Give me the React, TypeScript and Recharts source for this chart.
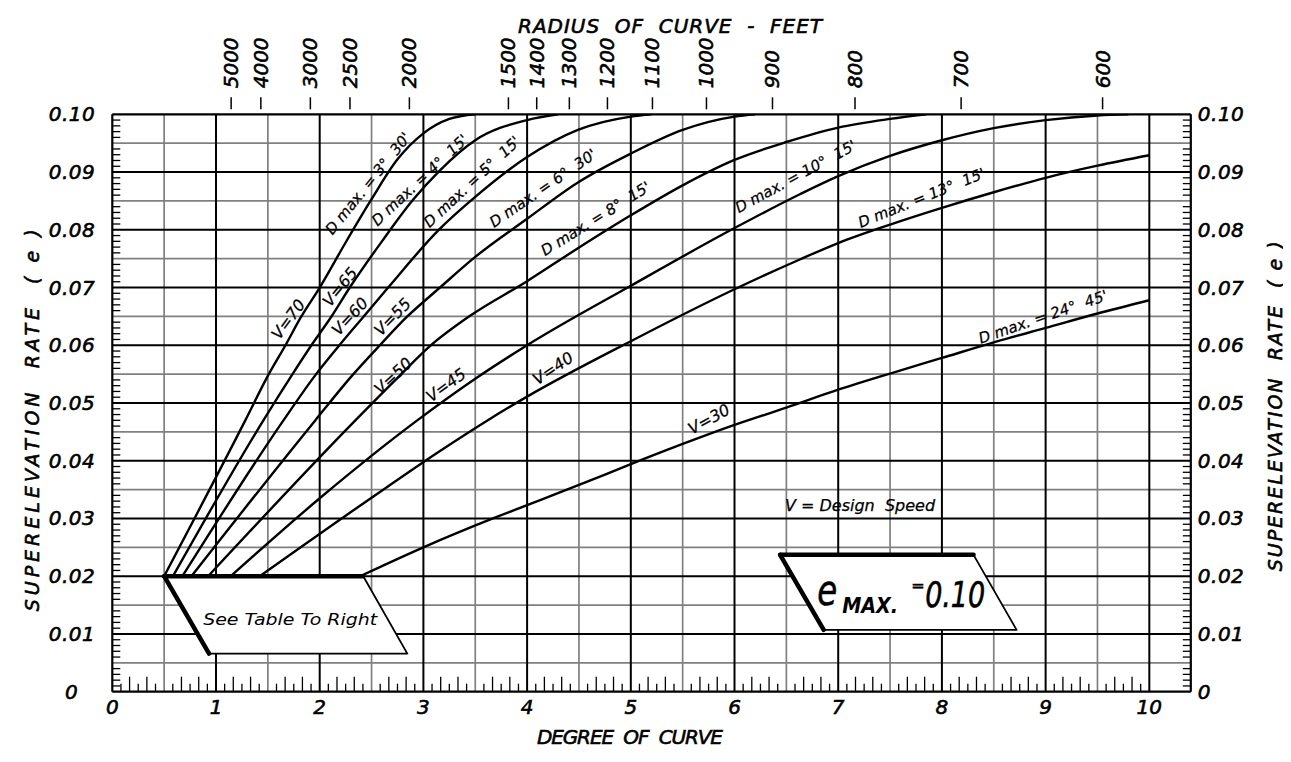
import React from 'react';
import {
  LineChart,
  Line,
  XAxis,
  YAxis,
  CartesianGrid,
  ReferenceArea,
  ReferenceDot,
  Label,
} from 'recharts';

// Superelevation rate e vs degree of curve D: [D, e]
const v70 = [[0.5, 0.02], [1.28, 0.0469], [1.5, 0.0547], [1.67, 0.06], [1.82, 0.0649], [2.0, 0.07], [2.25, 0.0778], [2.5, 0.0853], [2.75, 0.0922], [3.0, 0.0967], [3.25, 0.0992], [3.5, 0.1]];
const v65 = [[0.585, 0.02], [1.454, 0.0469], [1.727, 0.0547], [1.92, 0.06], [2.11, 0.0649], [2.29, 0.07], [2.6, 0.078], [2.9, 0.0852], [3.16, 0.0903], [3.5, 0.0955], [4.0, 0.099], [4.3, 0.1]];
const v60 = [[0.676, 0.02], [1.647, 0.0469], [1.953, 0.0547], [2.19, 0.06], [2.42, 0.0649], [2.66, 0.07], [3.16, 0.0802], [3.5, 0.0857], [4.0, 0.0926], [4.49, 0.0973], [5.0, 0.0996], [5.2, 0.1]];
const v55 = [[0.763, 0.02], [1.953, 0.0469], [2.31, 0.0547], [2.58, 0.06], [2.84, 0.0649], [3.16, 0.07], [3.5, 0.0753], [4.0, 0.0819], [4.49, 0.0882], [5.0, 0.0932], [5.5, 0.0973], [6.0, 0.0996], [6.2, 0.1]];
const v50 = [[0.924, 0.02], [2.339, 0.0469], [2.77, 0.0547], [3.06, 0.0598], [3.45, 0.0651], [4.0, 0.0711], [4.49, 0.0768], [5.0, 0.0825], [5.5, 0.0877], [6.0, 0.0921], [6.5, 0.0952], [7.0, 0.0977], [7.5, 0.0992], [7.85, 0.1]];
const v45 = [[1.142, 0.02], [2.0, 0.0335], [2.934, 0.0469], [3.5, 0.0542], [4.0, 0.06], [5.0, 0.0703], [6.0, 0.0803], [6.635, 0.0862], [7.0, 0.0893], [7.5, 0.0928], [8.0, 0.0955], [8.5, 0.0976], [9.0, 0.099], [9.5, 0.0998], [9.8, 0.1]];
const v40 = [[1.422, 0.02], [2.5, 0.0336], [3.16, 0.0417], [3.61, 0.0469], [4.0, 0.0511], [5.0, 0.0607], [6.0, 0.0697], [6.635, 0.0749], [7.0, 0.0777], [7.5, 0.0809], [8.0, 0.0838], [8.5, 0.0865], [9.0, 0.089], [9.5, 0.0911], [10.0, 0.0929]];
const v30 = [[2.39, 0.02], [3.0, 0.025], [3.67, 0.03], [4.0, 0.0323], [4.5, 0.0358], [5.0, 0.0394], [5.5, 0.0429], [6.0, 0.0462], [6.5, 0.0492], [7.0, 0.0523], [7.5, 0.0551], [8.0, 0.0578], [8.5, 0.0605], [9.0, 0.063], [9.5, 0.0655], [10.0, 0.0678]];

const curves = [v70, v65, v60, v55, v50, v45, v40, v30];

const speedNames = ['V=70', 'V=65', 'V=60', 'V=55', 'V=50', 'V=45', 'V=40', 'V=30'];
const dmaxNames = ["D max. = 3°  30'", "D max. = 4°  15'", "D max. = 5°  15'", "D max. = 6°  30'", "D max. = 8°  15'", "D max. = 10°  15'", "D max. = 13°  15'", "D max. = 24°  45'"];

// radius of curve, feet (top scale)
const radii = [5000, 4000, 3000, 2500, 2000, 1500, 1400, 1300, 1200, 1100, 1000, 900, 800, 700, 600];

// annotation placement: [D, e, angle]
const speedLabelAt = [[1.697, 0.0645, -54], [2.196, 0.0701, -51], [2.292, 0.065, -47], [2.702, 0.0649, -46], [2.707, 0.0547, -43], [3.218, 0.0531, -36], [4.25, 0.056, -34], [5.754, 0.0472, -29]];
const dmaxLabelAt = [[2.468, 0.088, -51], [2.967, 0.0886, -43], [3.469, 0.0883, -43], [4.154, 0.0872, -34.5], [4.662, 0.0819, -32], [6.59, 0.0892, -28.5], [7.805, 0.0855, -22], [8.975, 0.0649, -19]];

const tableBox = { x1: 0.5, x2: 2.845, y1: 0.0066, y2: 0.02, topRight: 2.42, bottomLeft: 0.933 };
const emaxBox = { x1: 6.44, x2: 8.72, y1: 0.0107, y2: 0.0237, topRight: 8.305, bottomLeft: 6.86 };

const ARC = 5729.58;
const X_MAX = 10.4;
const Y_MAX = 0.1;
const degreeTicks = Array.from({ length: 121 }, (_, k) => k / 12);
const rateTicks = Array.from({ length: 101 }, (_, k) => k / 1000);
const minorDegrees = Array.from({ length: 10 }, (_, k) => k + 0.5);
const majorDegrees = Array.from({ length: 10 }, (_, k) => k + 1);
const minorRates = Array.from({ length: 10 }, (_, k) => (2 * k + 1) / 200);
const majorRates = Array.from({ length: 9 }, (_, k) => (k + 1) / 100);

// grid positions from the plot offset (same linear mapping as the axes)
const gridX = (vals: number[]) => ({ offset }: any) => vals.map((v) => offset.left + (offset.width * v) / X_MAX);
const gridY = (vals: number[]) => ({ offset }: any) => vals.map((v) => offset.top + offset.height * (1 - v / Y_MAX));

const FONT = '"DejaVu Sans", "Liberation Sans", sans-serif';
const txt = (size: number, extra: any = {}) => ({
  fontFamily: FONT,
  fontStyle: 'italic',
  fontSize: size,
  fill: '#000',
  ...extra,
});
const heavy = { stroke: '#000', strokeWidth: 0.6 };

const LeftTick = (p: any) => {
  const { x, y, payload } = p;
  const m = Math.round(payload.value * 1000);
  if (m % 10 === 0) {
    return (
      <text x={m === 0 ? x - 34 : x - 17} y={y} textAnchor="end" dominantBaseline="central" style={txt(20, { letterSpacing: 0.5, ...heavy })}>
        {m === 0 ? '0' : (m / 1000).toFixed(2)}
      </text>
    );
  }
  if (m % 5 === 0) return <g />;
  return <line x1={x} x2={x + 8} y1={y} y2={y} stroke="#000" strokeWidth={1.3} />;
};

const RightTick = (p: any) => {
  const { x, y, payload } = p;
  const m = Math.round(payload.value * 1000);
  if (m % 10 === 0) {
    return (
      <text x={x + 7} y={y} textAnchor="start" dominantBaseline="central" style={txt(20, { letterSpacing: 0.5, ...heavy })}>
        {m === 0 ? '0' : (m / 1000).toFixed(2)}
      </text>
    );
  }
  if (m % 5 === 0) return <g />;
  return <line x1={x - 8} x2={x} y1={y} y2={y} stroke="#000" strokeWidth={1.3} />;
};

const BottomTick = (p: any) => {
  const { x, y, payload } = p;
  const k = Math.round(payload.value * 12);
  if (k % 12 === 0) {
    return (
      <text x={x} y={y + 15} textAnchor="middle" dominantBaseline="central" style={txt(20, heavy)}>
        {k / 12}
      </text>
    );
  }
  if (k % 6 === 0) return <g />;
  const len = k % 2 === 0 ? 15 : 8;
  return <line x1={x} x2={x} y1={y} y2={y - len} stroke="#000" strokeWidth={1.3} />;
};

// radius tick above the frame, placed at its degree of curve
const radiusMark = (r: number) => (p: any) => (
  <g>
    <line x1={p.cx} x2={p.cx} y1={p.cy - 17} y2={p.cy - 5} stroke="#000" strokeWidth={1.5} />
    <text transform={`translate(${p.cx},${p.cy - 26}) rotate(-90)`} textAnchor="start" dominantBaseline="central" style={txt(20, heavy)}>
      {r}
    </text>
  </g>
);

const Parallelogram = ({ x, y, width, height, box, children }: any) => {
  const span = box.x2 - box.x1;
  const tr = x + (width * (box.topRight - box.x1)) / span;
  const bl = x + (width * (box.bottomLeft - box.x1)) / span;
  return (
    <g>
      <polygon
        points={`${x},${y} ${tr},${y} ${x + width},${y + height} ${bl},${y + height}`}
        fill="#fff"
        stroke="#000"
        strokeWidth={1.8}
        strokeLinejoin="round"
      />
      <line x1={x} y1={y} x2={tr} y2={y} stroke="#000" strokeWidth={4.5} strokeLinecap="round" />
      <line x1={x} y1={y} x2={bl} y2={y + height} stroke="#000" strokeWidth={4.5} strokeLinecap="round" />
      {children}
    </g>
  );
};

const TableShape = (p: any) => (
  <Parallelogram {...p} box={tableBox}>
    <text x={p.x + 126} y={p.y + 49} textAnchor="middle" style={txt(16.5)} textLength={174} lengthAdjust="spacingAndGlyphs">
      See Table To Right
    </text>
  </Parallelogram>
);

const EmaxShape = (p: any) => (
  <Parallelogram {...p} box={emaxBox}>
    <text x={p.x + 37} y={p.y + 50} style={txt(42, heavy)} textLength={20} lengthAdjust="spacingAndGlyphs">e</text>
    <text x={p.x + 62} y={p.y + 58} style={txt(22, { fontWeight: 'bold' })} textLength={56} lengthAdjust="spacingAndGlyphs">MAX.</text>
    <text x={p.x + 131} y={p.y + 36} style={txt(16, heavy)}>=</text>
    <text x={p.x + 145} y={p.y + 52} style={txt(36, heavy)} textLength={60} lengthAdjust="spacingAndGlyphs">0.10</text>
  </Parallelogram>
);

const rotatedText = (label: string, angle: number, size: number) => (p: any) => (
  <text
    x={p.cx}
    y={p.cy}
    transform={`rotate(${angle} ${p.cx} ${p.cy})`}
    textAnchor="middle"
    dominantBaseline="central"
    style={txt(size, { whiteSpace: 'pre', stroke: '#000', strokeWidth: 0.25 })}
  >
    {label}
  </text>
);

const LeftTitle = (p: any) => {
  const vb = p.viewBox;
  const cx = vb.x + 10;
  const cy = vb.y + 306;
  return (
    <text transform={`translate(${cx},${cy}) rotate(-90)`} textAnchor="middle" dominantBaseline="central" style={txt(19, { whiteSpace: 'pre', ...heavy })} textLength={382} lengthAdjust="spacing">
      {'SUPERELEVATION  RATE  ( e )'}
    </text>
  );
};

const RightTitle = (p: any) => {
  const vb = p.viewBox;
  const cx = vb.x + 84;
  const cy = vb.y + 292;
  return (
    <text transform={`translate(${cx},${cy}) rotate(-90)`} textAnchor="middle" dominantBaseline="central" style={txt(19, { whiteSpace: 'pre', ...heavy })} textLength={330} lengthAdjust="spacing">
      {'SUPERELEVATION  RATE  ( e )'}
    </text>
  );
};

const TopTitle = (p: any) => {
  const vb = p.viewBox;
  return (
    <text x={662} y={vb.y + 12} textAnchor="middle" dominantBaseline="central" style={txt(20, { whiteSpace: 'pre', ...heavy })} textLength={304} lengthAdjust="spacing">
      {'RADIUS  OF  CURVE  -  FEET'}
    </text>
  );
};

const BottomTitle = (p: any) => {
  const vb = p.viewBox;
  return (
    <text x={622} y={vb.y + 45} textAnchor="middle" dominantBaseline="central" style={txt(20, { whiteSpace: 'pre', ...heavy })} textLength={186} lengthAdjust="spacing">
      {'DEGREE  OF  CURVE'}
    </text>
  );
};

const axisLine = { stroke: '#000', strokeWidth: 2.2 };

export default function App() {
  return (
    <div style={{ width: 1283, height: 746, background: '#fff' }}>
      <LineChart width={1283} height={746} margin={{ top: 6.3, right: 20.2, bottom: 22.3, left: 14.3 }}>
        <CartesianGrid
          stroke="#808080"
          strokeWidth={1.7}
          horizontalCoordinatesGenerator={gridY(minorRates)}
          verticalCoordinatesGenerator={gridX(minorDegrees)}
        />
        <CartesianGrid
          stroke="#000"
          strokeWidth={2}
          horizontalCoordinatesGenerator={gridY(majorRates)}
          verticalCoordinatesGenerator={gridX(majorDegrees)}
        />
        <XAxis
          dataKey="d"
          type="number"
          domain={[0, X_MAX]}
          allowDataOverflow
          ticks={degreeTicks}
          interval={0}
          tickLine={false}
          tickSize={0}
          tickMargin={0}
          height={40}
          axisLine={axisLine}
          tick={BottomTick}
        >
          <Label content={BottomTitle} />
        </XAxis>
        <XAxis
          xAxisId="top"
          orientation="top"
          type="number"
          domain={[0, X_MAX]}
          allowDataOverflow
          tick={false}
          tickLine={false}
          height={100}
          axisLine={axisLine}
        >
          <Label content={TopTitle} />
        </XAxis>
        <YAxis
          type="number"
          domain={[0, Y_MAX]}
          allowDataOverflow
          ticks={rateTicks}
          interval={0}
          tickLine={false}
          tickSize={0}
          tickMargin={0}
          width={90}
          axisLine={axisLine}
          tick={LeftTick}
        >
          <Label content={LeftTitle} />
        </YAxis>
        <YAxis
          yAxisId="right"
          orientation="right"
          type="number"
          domain={[0, Y_MAX]}
          allowDataOverflow
          ticks={rateTicks}
          interval={0}
          tickLine={false}
          tickSize={0}
          tickMargin={0}
          width={80}
          axisLine={axisLine}
          tick={RightTick}
        >
          <Label content={RightTitle} />
        </YAxis>

        <ReferenceArea x1={tableBox.x1} x2={tableBox.x2} y1={tableBox.y1} y2={tableBox.y2} shape={TableShape} />
        <ReferenceArea x1={emaxBox.x1} x2={emaxBox.x2} y1={emaxBox.y1} y2={emaxBox.y2} shape={EmaxShape} />

        {curves.map((c, i) => (
          <Line
            key={speedNames[i]}
            data={c.map(([d, e]) => ({ d, e }))}
            dataKey="e"
            type="monotone"
            stroke="#000"
            strokeWidth={2.4}
            dot={false}
            activeDot={false}
            isAnimationActive={false}
          />
        ))}

        {radii.map((r) => (
          <ReferenceDot key={`r${r}`} x={ARC / r} y={Y_MAX} r={1} ifOverflow="visible" shape={radiusMark(r)} />
        ))}
        {speedLabelAt.map(([d, e, a], i) => (
          <ReferenceDot key={`s${i}`} x={d} y={e} r={1} shape={rotatedText(speedNames[i], a, 16)} />
        ))}
        {dmaxLabelAt.map(([d, e, a], i) => (
          <ReferenceDot key={`m${i}`} x={d} y={e} r={1} shape={rotatedText(dmaxNames[i], a, 15)} />
        ))}
        <ReferenceDot x={7.21} y={0.0323} r={1} shape={rotatedText('V = Design  Speed', 0, 16)} />
      </LineChart>
    </div>
  );
}
